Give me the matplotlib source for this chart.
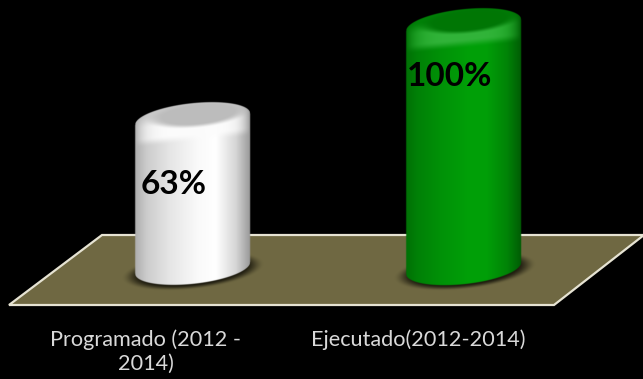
import numpy as np
import matplotlib
matplotlib.use('Agg')
from matplotlib import pyplot as plt
from matplotlib.patches import Polygon

categories = ['Programado (2012 -\n2014)', 'Ejecutado(2012-2014)']
values = [63, 100]
value_labels = ['63%', '100%']

W, H = 643, 379
# one category step is 272 px, one percent is 2.54 px
x0_px, x_step = 192.0, 272.0
y0_px, y_step = 279.0, 2.54
half_w = 57.5
tilt = 0.10
cap_b = 16.0
base_back = 11.0   # cylinder base sits a bit behind the zero line

fig = plt.figure(figsize=(W/100, H/100), dpi=100, facecolor='black')
ax = fig.add_axes([0, 0, 1, 1])
ax.set_facecolor('black')
ax.axis('off')
xlim = ((0-x0_px)/x_step, (W-x0_px)/x_step)
ylim = ((y0_px-H)/y_step, y0_px/y_step)

def xd(px):
    return (px-x0_px)/x_step
def yd(px):
    return (y0_px-px)/y_step
def smooth(a, b, t):
    k = np.clip((t-a)/(b-a), 0, 1)
    return k*k*(3-2*k)

# floor
floor = Polygon([(xd(102), yd(235)), (xd(644), yd(235)), (xd(554), yd(305)), (xd(9), yd(305))],
                closed=True, facecolor='#6f6842', edgecolor='#e6e3d3', linewidth=1.6, zorder=1)
ax.add_patch(floor)

stops = [-1.0, -0.8, -0.4, 0.1, 0.4, 0.75, 1.0]
looks = [
    {'base': np.array([255, 255, 255.]), 'shade': [0.68, 0.80, 0.90, 0.98, 1.0, 0.84, 0.60],
     'top': np.array([188, 188, 188.]), 'rim': np.array([252, 252, 252.]), 'back': np.array([200, 200, 200.])},
    {'base': np.array([0, 165, 8.]), 'shade': [0.68, 0.78, 0.88, 0.97, 0.96, 0.80, 0.56],
     'top': np.array([0, 118, 5.]), 'rim': np.array([50, 180, 58.]), 'back': np.array([0, 128, 8.])},
]

for i, v in enumerate(values):
    xc = x0_px + i*x_step
    yt = y0_px - v*y_step
    yb = y0_px - base_back
    look = looks[i]

    # shadow on the floor
    xs = np.arange(xc-85, xc+85, 1.0)
    ys = np.arange(yb-30, yb+30, 1.0)
    X, Y = np.meshgrid(xs, ys)
    d = np.sqrt(((X-xc-1)/72.)**2 + ((Y-(yb+3)+tilt*(X-xc))/19.)**2)
    shadow = np.zeros(X.shape+(4,))
    shadow[..., :3] = [25/255, 23/255, 12/255]
    shadow[..., 3] = 0.95*(1-smooth(0.72, 1.0, d))
    ax.imshow(shadow, extent=(xd(xs[0]), xd(xs[-1]), yd(ys[-1]), yd(ys[0])), origin='upper',
              aspect='auto', zorder=2, interpolation='bilinear')

    # cylinder, shaded pixel by pixel
    xs = np.arange(xc-half_w-2, xc+half_w+2, 1/3.)
    ys = np.arange(yt-20, yb+20, 1/3.)
    X, Y = np.meshgrid(xs, ys)
    u = (X-xc)/half_w
    u_c = np.clip(u, -1, 1)
    slant = tilt*(X-xc)
    half = cap_b*np.sqrt(1-u_c**2)
    alpha = np.clip((1-np.abs(u))*half_w+0.5, 0, 1)
    alpha = alpha*np.clip(Y-(yt-slant-half)+0.5, 0, 1)*np.clip((yb-slant+half)-Y+0.5, 0, 1)

    body = look['base'][None, None, :]*np.interp(u, stops, look['shade'])[..., None]

    vv = (Y-(yt-slant))/cap_b
    side = (1-np.abs(u_c)**4)[..., None]
    # rim colour: bright along the front, dull along the back, body tone at the ends
    back_mix = (1-smooth(-0.5, 0.3, vv))[..., None]
    rim = look['rim'][None, None, :]*(1-back_mix) + look['back'][None, None, :]*back_mix
    rim = rim*side + body*(1-side)
    # flat top is a soft ellipse pushed to the back right
    r2 = np.sqrt(((u-0.1)/0.82)**2 + ((vv+0.25)/0.75)**2)
    mix = smooth(0.72, 1.15, r2)[..., None]
    cap = look['top'][None, None, :]*(1-mix) + rim*mix
    # below the front edge the highlight dies into the body
    fade = smooth(0.85, 1.45, vv)[..., None]
    rgb = cap*(1-fade) + body*fade

    img = np.dstack([np.clip(rgb, 0, 255)/255., alpha])
    ax.imshow(img, extent=(xd(xs[0]), xd(xs[-1]), yd(ys[-1]), yd(ys[0])), origin='upper',
              aspect='auto', zorder=3, interpolation='antialiased')

ax.set_xlim(xlim)
ax.set_ylim(ylim)

# value labels sit left of the centre, moved by hand in the original
label_dx = [-18/x_step, -14/x_step]
label_y = [yd(185), yd(77)]
for i, txt in enumerate(value_labels):
    ax.text(i+label_dx[i], label_y[i], txt, ha='center', va='center', color='black',
            fontsize=24, fontweight='bold', family='Lato', zorder=5)

for i, txt in enumerate(categories):
    ax.text(i-46/x_step, yd(329), txt, ha='center', va='top', color='#d9d9d9',
            fontsize=15.6, family='Lato', zorder=5, linespacing=1.29)

fig.savefig('out.png', dpi=100, facecolor='black')
